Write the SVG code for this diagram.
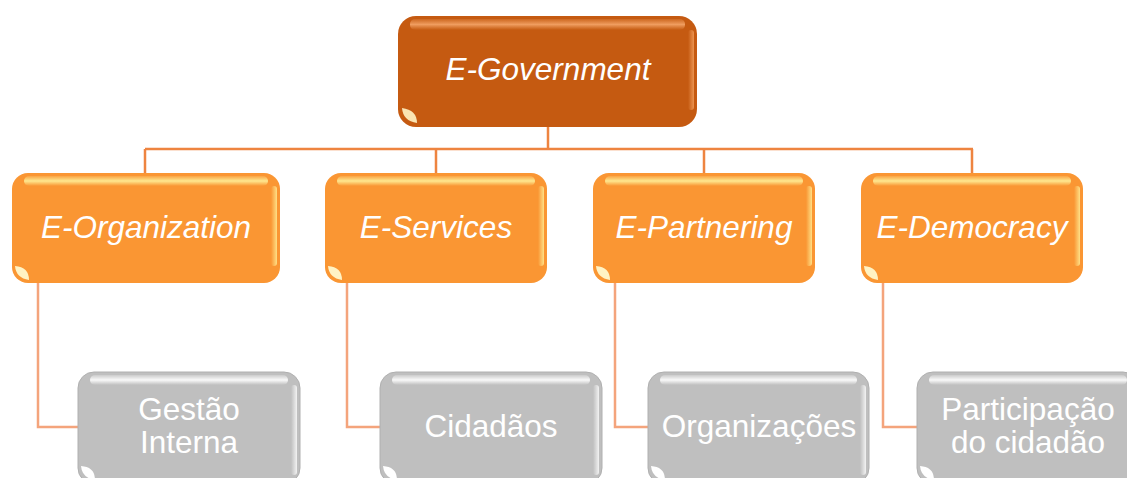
<svg xmlns="http://www.w3.org/2000/svg" width="1127" height="478" viewBox="0 0 1127 478">
<style>
.main{fill:#C55A11}
.org{fill:#FA9633}
.gry{fill:#BFBFBF;stroke:#B0B0B0;stroke-width:1}
.t{font-family:"Liberation Sans",Arial,sans-serif;font-size:31.5px;fill:#FFFFFF;text-anchor:middle}
.it{font-style:italic}
.c1{fill:none;stroke:#EE8440;stroke-width:2.5}
.c2{fill:none;stroke:#F4A47C;stroke-width:2.5}
.blob{fill:#FFF3C4}
</style>
<defs>
<linearGradient id="shO" x1="0" y1="0" x2="0" y2="1">
<stop offset="0" stop-color="#FFF6A0" stop-opacity="0.15"/>
<stop offset="0.5" stop-color="#FFF6A0" stop-opacity="0.85"/>
<stop offset="1" stop-color="#FFF6A0" stop-opacity="0"/>
</linearGradient>
<linearGradient id="shM" x1="0" y1="0" x2="0" y2="1">
<stop offset="0" stop-color="#F0A060" stop-opacity="0.2"/>
<stop offset="0.5" stop-color="#F4A468" stop-opacity="0.9"/>
<stop offset="1" stop-color="#F0A060" stop-opacity="0"/>
</linearGradient>
<linearGradient id="shG" x1="0" y1="0" x2="0" y2="1">
<stop offset="0" stop-color="#FFFFFF" stop-opacity="0.2"/>
<stop offset="0.5" stop-color="#FFFFFF" stop-opacity="0.9"/>
<stop offset="1" stop-color="#FFFFFF" stop-opacity="0"/>
</linearGradient>
<linearGradient id="sdO" x1="0" y1="0" x2="1" y2="0">
<stop offset="0" stop-color="#FFE890" stop-opacity="0"/>
<stop offset="1" stop-color="#FFE890" stop-opacity="0.9"/>
</linearGradient>
<linearGradient id="sdM" x1="0" y1="0" x2="1" y2="0">
<stop offset="0" stop-color="#F09A58" stop-opacity="0"/>
<stop offset="1" stop-color="#F09A58" stop-opacity="0.9"/>
</linearGradient>
<linearGradient id="sdG" x1="0" y1="0" x2="1" y2="0">
<stop offset="0" stop-color="#FFFFFF" stop-opacity="0"/>
<stop offset="1" stop-color="#FFFFFF" stop-opacity="0.8"/>
</linearGradient>
</defs>

<g id="connectors">
<path class="c1" d="M548 127 V149 M145 149 H973 M145 149 V173 M436 149 V173 M704 149 V173 M972 149 V173"/>
<path class="c2" d="M38 283 V427 H78 M347 283 V427 H380 M615 283 V427 H648 M883 283 V427 H917"/>
</g>

<g id="n-egov">
<rect class="main" x="398" y="16" width="299" height="111" rx="18"/>
<rect x="410" y="19" width="275" height="11" rx="5" fill="url(#shM)"/>
<rect x="688" y="30" width="6" height="80" rx="3" fill="url(#sdM)"/>
<path class="blob" d="M402 108 Q403 121 417 123 Q417 110 402 108 z" opacity="0.9"/>
<text class="t it" x="548" y="80">E-Government</text>
</g>

<g id="n-eorg">
<rect class="org" x="12" y="173" width="268" height="110" rx="16"/>
<rect x="24" y="176" width="244" height="10" rx="5" fill="url(#shO)"/>
<rect x="271" y="186" width="6" height="80" rx="3" fill="url(#sdO)"/>
<path class="blob" d="M15 266 Q16 278 29 280 Q29 267 15 266 z"/>
<text class="t it" x="146" y="238">E-Organization</text>
</g>

<g id="n-eserv">
<rect class="org" x="325" y="173" width="222" height="110" rx="16"/>
<rect x="337" y="176" width="198" height="10" rx="5" fill="url(#shO)"/>
<rect x="538" y="186" width="6" height="80" rx="3" fill="url(#sdO)"/>
<path class="blob" d="M328 266 Q329 278 342 280 Q342 267 328 266 z"/>
<text class="t it" x="436" y="238">E-Services</text>
</g>

<g id="n-epart">
<rect class="org" x="593" y="173" width="222" height="110" rx="16"/>
<rect x="605" y="176" width="198" height="10" rx="5" fill="url(#shO)"/>
<rect x="806" y="186" width="6" height="80" rx="3" fill="url(#sdO)"/>
<path class="blob" d="M596 266 Q597 278 610 280 Q610 267 596 266 z"/>
<text class="t it" x="704" y="238">E-Partnering</text>
</g>

<g id="n-edem">
<rect class="org" x="861" y="173" width="222" height="110" rx="16"/>
<rect x="873" y="176" width="198" height="10" rx="5" fill="url(#shO)"/>
<rect x="1074" y="186" width="6" height="80" rx="3" fill="url(#sdO)"/>
<path class="blob" d="M864 266 Q865 278 878 280 Q878 267 864 266 z"/>
<text class="t it" x="972" y="238">E-Democracy</text>
</g>

<g id="n-gestao">
<rect class="gry" x="78" y="372" width="222" height="112" rx="16"/>
<rect x="90" y="375" width="198" height="10" rx="5" fill="url(#shG)"/>
<rect x="291" y="385" width="6" height="90" rx="3" fill="url(#sdG)"/>
<path d="M81 466 Q82 478 95 480 Q95 467 81 466 z" fill="#FFFFFF"/>
<text class="t" x="189" y="420">Gestão</text>
<text class="t" x="189" y="453">Interna</text>
</g>

<g id="n-cidadaos">
<rect class="gry" x="380" y="372" width="222" height="112" rx="16"/>
<rect x="392" y="375" width="198" height="10" rx="5" fill="url(#shG)"/>
<rect x="593" y="385" width="6" height="90" rx="3" fill="url(#sdG)"/>
<path d="M383 466 Q384 478 397 480 Q397 467 383 466 z" fill="#FFFFFF"/>
<text class="t" x="491" y="437">Cidadãos</text>
</g>

<g id="n-organizacoes">
<rect class="gry" x="648" y="372" width="221" height="112" rx="16"/>
<rect x="660" y="375" width="197" height="10" rx="5" fill="url(#shG)"/>
<rect x="860" y="385" width="6" height="90" rx="3" fill="url(#sdG)"/>
<path d="M651 466 Q652 478 665 480 Q665 467 651 466 z" fill="#FFFFFF"/>
<text class="t" x="759" y="437">Organizações</text>
</g>

<g id="n-participacao">
<rect class="gry" x="917" y="372" width="222" height="112" rx="16"/>
<rect x="929" y="375" width="198" height="10" rx="5" fill="url(#shG)"/>
<path d="M920 466 Q921 478 934 480 Q934 467 920 466 z" fill="#FFFFFF"/>
<text class="t" x="1028" y="420">Participação</text>
<text class="t" x="1028" y="453">do cidadão</text>
</g>
</svg>
